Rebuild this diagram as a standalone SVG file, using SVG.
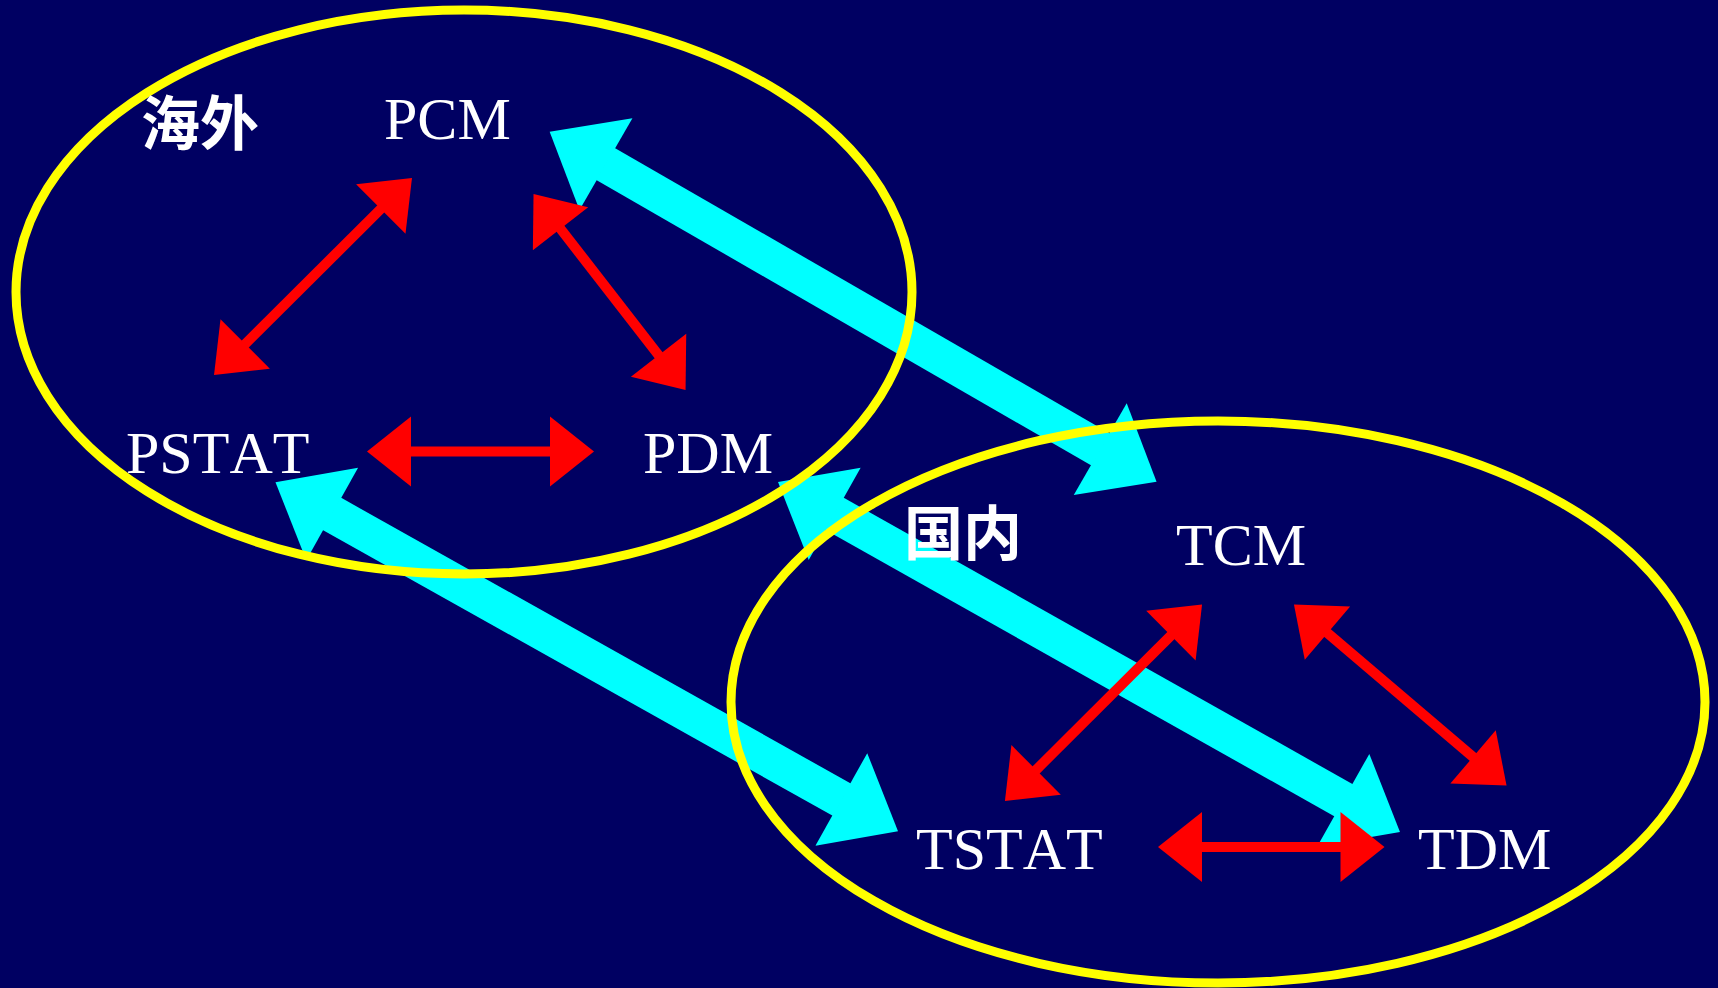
<svg xmlns="http://www.w3.org/2000/svg" width="1718" height="988" viewBox="0 0 1718 988">
<style>
.lbl{font-family:"Liberation Serif","Times New Roman",serif;font-size:60px;fill:#ffffff;font-kerning:none}
.cjk{font-family:"Noto Sans CJK SC","Noto Sans CJK JP",sans-serif;font-size:59px;font-weight:bold;fill:#ffffff}
.grp{fill:none;stroke:#ffff00;stroke-width:9}
.red{stroke:#ff0000;stroke-width:10;fill:none;marker-start:url(#rh);marker-end:url(#rh)}
.cyan{stroke:#00ffff;stroke-width:37;fill:none;marker-start:url(#ch);marker-end:url(#ch)}
</style>
<defs>
<marker id="rh" markerUnits="userSpaceOnUse" orient="auto-start-reverse" refX="0" refY="0" markerWidth="1" markerHeight="1" overflow="visible">
<path d="M-1,-35 L43,0 L-1,35 Z" fill="#ff0000"/>
</marker>
<marker id="ch" markerUnits="userSpaceOnUse" orient="auto-start-reverse" refX="0" refY="0" markerWidth="1" markerHeight="1" overflow="visible">
<path d="M-1,-53 L64,0 L-1,53 Z" fill="#00ffff"/>
</marker>
</defs>
<rect width="1718" height="988" fill="#000062"/>
<g id="connectors-cyan">
<line class="cyan" x1="605.1" y1="163.7" x2="1101.1" y2="449.7"/>
<line class="cyan" x1="331.3" y1="513.5" x2="842.2" y2="799.9"/>
<line class="cyan" x1="833.8" y1="513.4" x2="1344.2" y2="800.6"/>
</g>
<g id="group-overseas">
<ellipse class="grp" cx="464" cy="292" rx="448" ry="282"/>
<text class="cjk" x="141" y="145">海外</text>
</g>
<g id="group-domestic">
<ellipse class="grp" cx="1218" cy="702" rx="487" ry="281"/>
<text class="cjk" x="904" y="555">国内</text>
</g>
<g id="connectors-red">
<line class="red" x1="381.5" y1="208.3" x2="244.5" y2="344.7"/>
<line class="red" x1="559.9" y1="228" x2="659.2" y2="356"/>
<line class="red" x1="410" y1="451.5" x2="551" y2="451.5"/>
<line class="red" x1="1171.6" y1="634.9" x2="1035.4" y2="770.6"/>
<line class="red" x1="1326.7" y1="632.4" x2="1473.8" y2="757.6"/>
<line class="red" x1="1201" y1="847" x2="1341.5" y2="847"/>
</g>
<g id="node-PCM"><text class="lbl" x="384" y="139">PCM</text></g>
<g id="node-PSTAT"><text class="lbl" x="126" y="473">PSTAT</text></g>
<g id="node-PDM"><text class="lbl" x="643" y="473">PDM</text></g>
<g id="node-TCM"><text class="lbl" x="1176" y="565">TCM</text></g>
<g id="node-TSTAT"><text class="lbl" x="916" y="869">TSTAT</text></g>
<g id="node-TDM"><text class="lbl" x="1418" y="869">TDM</text></g>
</svg>
